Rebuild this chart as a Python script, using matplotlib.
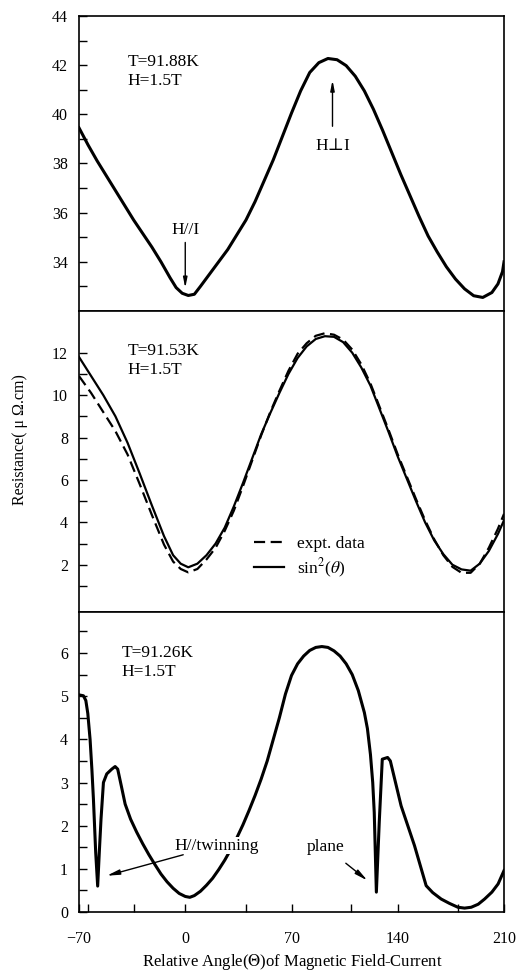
import numpy as np
import matplotlib
matplotlib.use('Agg')
from matplotlib import pyplot as plt

plt.rcParams['font.family'] = ['Liberation Serif', 'DejaVu Serif']
plt.rcParams['mathtext.fontset'] = 'stix'

# --- data ---
# top panel, T=91.88K
ang_top = [-70, -64, -58, -52, -46, -40, -34, -28, -22, -16,
           -10, -6, -2, 2, 6, 10, 16, 22, 28, 34,
           40, 46, 52, 58, 64, 70, 76, 82, 88, 94,
           100, 106, 112, 118, 124, 130, 136, 142, 148, 154,
           160, 166, 172, 178, 184, 190, 196, 202, 206, 209, 210]
res_top = [39.45, 38.75, 38.1, 37.5, 36.9, 36.3, 35.7, 35.15, 34.6, 34.0,
           33.35, 32.95, 32.72, 32.63, 32.68, 33.0, 33.5, 34.0, 34.5, 35.1,
           35.7, 36.45, 37.3, 38.15, 39.1, 40.05, 40.95, 41.7, 42.1, 42.27,
           42.22, 41.98, 41.55, 40.95, 40.2, 39.35, 38.45, 37.55, 36.7, 35.85,
           35.05, 34.4, 33.8, 33.3, 32.9, 32.62, 32.55, 32.75, 33.1, 33.6, 34.0]

# middle panel, T=91.53K : sin^2 fit (solid) and expt. data (dashed)
ang_mid = [-70, -62, -54, -46, -38, -30, -22, -14, -8, -3,
           2, 8, 14, 20, 26, 32, 38, 44, 50, 56,
           62, 68, 74, 80, 86, 92, 98, 104, 110, 116,
           122, 128, 134, 140, 146, 152, 158, 164, 170, 176,
           182, 188, 194, 200, 206, 210]
res_fit = [11.8, 10.9, 10.0, 9.0, 7.75, 6.3, 4.8, 3.35, 2.45, 2.05,
           1.88, 2.05, 2.45, 3.0, 3.75, 4.75, 5.85, 7.0, 8.15, 9.15,
           10.1, 11.0, 11.75, 12.3, 12.65, 12.78, 12.75, 12.5, 12.0, 11.3,
           10.45, 9.35, 8.25, 7.1, 6.05, 5.0, 4.0, 3.15, 2.5, 2.0,
           1.78, 1.72, 2.05, 2.65, 3.45, 4.1]
res_exp = [10.9, 10.1, 9.2, 8.3, 7.2, 5.8, 4.35, 2.95, 2.15, 1.8,
           1.64, 1.8, 2.25, 2.8, 3.6, 4.55, 5.7, 6.9, 8.1, 9.2,
           10.2, 11.15, 11.95, 12.45, 12.8, 12.92, 12.85, 12.62, 12.15, 11.45,
           10.55, 9.45, 8.35, 7.2, 6.15, 5.1, 4.1, 3.2, 2.45, 1.9,
           1.62, 1.62, 2.05, 2.8, 3.7, 4.4]

# bottom panel, T=91.26K
ang_bot = [-70, -67.1, -65.5, -64.2, -62.7, -61.5, -60.5, -59.0, -57.7, -56.6,
           -55.5, -53.9, -51.7, -48.4, -46.2, -44.5, -42, -39.6, -36, -32,
           -28, -24, -20, -16, -12, -8, -4, 0, 3, 6,
           10, 14, 18, 22, 26, 30, 34, 38, 42, 46,
           50, 54, 58, 62, 66, 70, 74, 78, 82, 86,
           90, 94, 98, 102, 106, 110, 114, 118, 120, 122,
           123.5, 124.5, 125.9, 127.8, 129.8, 133.3, 135.1, 142.2, 151.0, 158.7,
           163, 168.6, 174, 179.6, 184, 188.4, 193, 197.2, 202, 206.1, 210]
res_bot = [5.03, 5.01, 4.9, 4.6, 4.0, 3.3, 2.62, 1.38, 0.6, 1.4,
           2.15, 3.0, 3.2, 3.31, 3.37, 3.31, 2.9, 2.5, 2.15, 1.85,
           1.58, 1.33, 1.1, 0.88, 0.7, 0.55, 0.43, 0.36, 0.34, 0.38,
           0.48, 0.62, 0.78, 0.98, 1.2, 1.45, 1.72, 2.02, 2.35, 2.7,
           3.08, 3.5, 4.0, 4.5, 5.05, 5.48, 5.75, 5.93, 6.06, 6.13,
           6.15, 6.13, 6.05, 5.93, 5.75, 5.5, 5.13, 4.62, 4.25, 3.65,
           3.0, 2.31, 0.46, 2.08, 3.54, 3.58, 3.5, 2.46, 1.54, 0.61,
           0.45, 0.30, 0.2, 0.11, 0.09, 0.11, 0.18, 0.30, 0.46, 0.65, 0.96]

x_major = [-70, 0, 70, 140, 210]
x_minor = [-64, -34, 40, 109, 180]
x_labels = ['\u221270', '0', '70', '140', '210']

fig = plt.figure(figsize=(5.17, 9.73), dpi=100)
ax1 = fig.add_axes([0.1528, 0.6804, 0.8221, 0.3032])
ax2 = fig.add_axes([0.1528, 0.3710, 0.8221, 0.3094])
ax3 = fig.add_axes([0.1528, 0.0627, 0.8221, 0.3083])

for ax in (ax1, ax2, ax3):
    ax.set_xlim(-70, 210)
    for s in ax.spines.values():
        s.set_linewidth(1.2)
    ax.tick_params(axis='both', which='both', direction='in', length=6,
                   width=1.0, labelsize=11.5, pad=8)

arrow_kw = dict(arrowstyle='-|>,head_length=0.6,head_width=0.12',
                color='black', lw=1.0)

# top
ax1.plot(ang_top, res_top, color='black', lw=2.2, solid_joinstyle='round')
ax1.set_ylim(32, 44)
ax1.set_yticks([34, 36, 38, 40, 42, 44])
ax1.set_yticks([33, 35, 37, 39, 41, 43], minor=True)
ax1.set_xticks([])
ax1.set_xticks([], minor=True)
ax1.text(0.115, 0.87, 'T=91.88K\nH=1.5T', transform=ax1.transAxes,
         fontsize=12.5, va='top', ha='left', linespacing=1.25)
ax1.annotate('', xy=(0, 32.82), xytext=(0, 34.9), arrowprops=arrow_kw)
ax1.text(0, 35.3, 'H//I', fontsize=12.5, ha='center', va='center')
ax1.annotate('', xy=(97, 41.5), xytext=(97, 39.4), arrowprops=arrow_kw)
ax1.text(97, 38.7, 'H\u22a5I', fontsize=12.5, ha='center', va='center')

# middle
ax2.plot(ang_mid, res_exp, color='black', lw=1.6, dashes=(5, 2.5),
         label='expt. data')
ax2.plot(ang_mid, res_fit, color='black', lw=1.6, label='sin$^{2}$($\\theta$)')
ax2.set_ylim(-0.23, 13.97)
ax2.set_yticks([2, 4, 6, 8, 10, 12])
ax2.set_yticks([1, 3, 5, 7, 9, 11], minor=True)
ax2.set_xticks([])
ax2.set_xticks([], minor=True)
ax2.text(0.115, 0.895, 'T=91.53K\nH=1.5T', transform=ax2.transAxes,
         fontsize=12.5, va='top', ha='left', linespacing=1.25)
ax2.legend(loc='center left', bbox_to_anchor=(0.375, 0.18), frameon=False,
           fontsize=12.5, handlelength=1.75, handletextpad=0.7, labelspacing=0.25)

# bottom
ax3.plot(ang_bot, res_bot, color='black', lw=2.2, solid_joinstyle='round')
ax3.set_ylim(0, 6.95)
ax3.set_yticks([0, 1, 2, 3, 4, 5, 6])
ax3.set_yticks([0.5, 1.5, 2.5, 3.5, 4.5, 5.5, 6.5], minor=True)
ax3.set_xticks(x_major)
ax3.set_xticklabels(x_labels)
ax3.set_xticks(x_minor, minor=True)
ax3.tick_params(axis='x', which='both', pad=14)
ax3.text(0.10, 0.89, 'T=91.26K\nH=1.5T', transform=ax3.transAxes,
         fontsize=12.5, va='top', ha='left', linespacing=1.25)
ax3.annotate('H//twinning', xy=(-51.7, 0.84), xytext=(-7, 1.54),
             fontsize=12.5, ha='left', va='center',
             bbox=dict(boxstyle='square,pad=0.05', fc='white', ec='none'),
             arrowprops=dict(arrow_kw, shrinkA=1, shrinkB=0))
ax3.annotate('plane', xy=(120, 0.73), xytext=(92.6, 1.5),
             fontsize=12.5, ha='center', va='center',
             arrowprops=dict(arrow_kw, shrinkA=6, shrinkB=0))

fig.text(0.039, 0.548, 'Resistance( \u03bc \u03a9.cm)', rotation=90,
         fontsize=11.5, ha='center', va='center')
fig.text(0.565, 0.0113, 'Relative Angle($\\mathit{\\Theta}$)of Magnetic Field-Current',
         fontsize=12, ha='center', va='center')

fig.savefig('out.png', dpi=100)
